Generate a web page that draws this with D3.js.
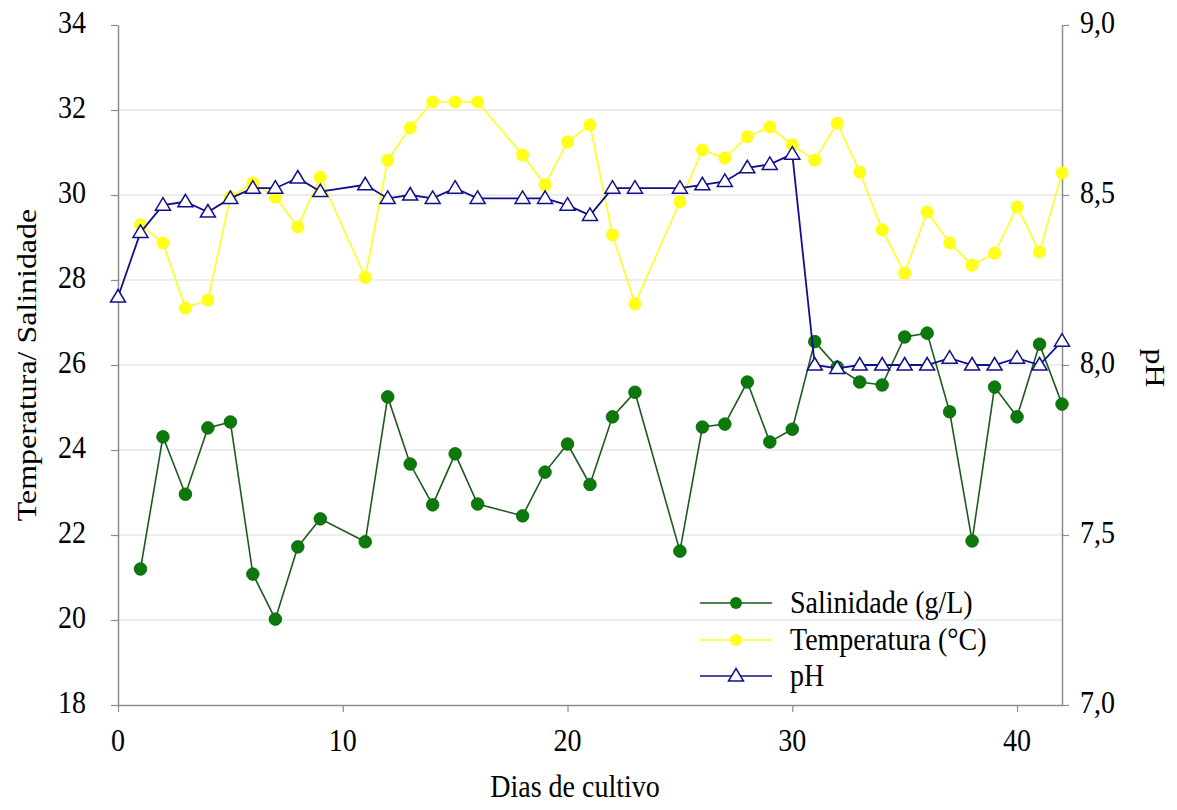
<!DOCTYPE html>
<html>
<head>
<meta charset="utf-8">
<script src="https://cdn.jsdelivr.net/npm/d3@7"></script>
<style>
  html, body { margin: 0; padding: 0; background: #ffffff; }
  svg { display: block; }
</style>
</head>
<body>
<svg id="chart" width="1177" height="810"></svg>
<script>
// ---- data ----
const salDays = [1,2,3,4,5,6,7,8,9,11,12,13,14,15,16,18,19,20,21,22,23,25,26,27,28,29,30,31,32,33,34,35,36,37,38,39,40,41,42];
const salinidade = [21.2,24.31,22.96,24.52,24.66,21.08,20.02,21.72,22.38,21.84,25.25,23.67,22.71,23.91,22.73,22.45,23.48,24.14,23.19,24.78,25.36,21.62,24.54,24.61,25.6,24.19,24.49,26.55,25.95,25.6,25.53,26.66,26.75,24.9,21.86,25.48,24.78,26.49,25.08];

const tempDays = [1,2,3,4,5,6,7,8,9,11,12,13,14,15,16,18,19,20,21,22,23,25,26,27,28,29,30,31,32,33,34,35,36,37,38,39,40,41,42];
const temperatura = [29.3,28.87,27.34,27.53,29.95,30.28,29.95,29.25,30.42,28.06,30.82,31.58,32.19,32.19,32.19,30.94,30.24,31.25,31.65,29.06,27.44,29.84,31.06,30.87,31.37,31.6,31.18,30.82,31.69,30.54,29.18,28.16,29.6,28.87,28.35,28.63,29.72,28.66,30.52];

const phDays = [0,1,2,3,4,5,6,7,8,9,11,12,13,14,15,16,18,19,20,21,22,23,25,26,27,28,29,30,31,32,33,34,35,36,37,38,39,40,41,42];
const ph = [8.2,8.39,8.47,8.48,8.45,8.49,8.52,8.52,8.55,8.51,8.53,8.49,8.50,8.49,8.52,8.49,8.49,8.49,8.47,8.44,8.52,8.52,8.52,8.53,8.54,8.58,8.59,8.62,8.0,7.99,8.0,8.0,8.0,8.0,8.02,8.0,8.0,8.02,8.0,8.07];

const xTicks = [0,10,20,30,40];
const leftTicks = [18,20,22,24,26,28,30,32,34];
const rightTicks = [7.0,7.5,8.0,8.5,9.0];
const legendLabels = ["Salinidade (g/L)", "Temperatura (°C)", "pH"];
const xTitle = "Dias de cultivo";
const yLeftTitle = "Temperatura/ Salinidade";
const yRightTitle = "pH";

// ---- layout ----
const L = 118, R = 1062, T = 25, B = 705;
const SY = 1.14; // vertical stretch of text, as in reference
const FS = 28;
const FONT = '"Liberation Serif", "Times New Roman", serif';

const svg = d3.select("#chart");
const x = d3.scaleLinear().domain([0, 42]).range([L, R]);
const yL = d3.scaleLinear().domain([18, 34]).range([B, T]);
const yR = d3.scaleLinear().domain([7, 9]).range([B, T]);

const axisColor = "#8c8c8c";

// gridlines
svg.append("g").selectAll("line")
  .data(leftTicks.filter(d => d > 18 && d < 34))
  .join("line")
  .attr("x1", L).attr("x2", R)
  .attr("y1", d => yL(d)).attr("y2", d => yL(d))
  .attr("stroke", "#dcdcdc").attr("stroke-width", 1.2);

function styleAxis(g) {
  g.selectAll("path.domain").attr("stroke", axisColor).attr("stroke-width", 1.5);
  g.selectAll(".tick line").attr("stroke", axisColor).attr("stroke-width", 1.2);
  g.selectAll(".tick text").remove();
}

// axes (lines & ticks)
const gx = svg.append("g").attr("transform", `translate(0,${B})`)
  .call(d3.axisBottom(x).tickValues(xTicks).tickSizeInner(7).tickSizeOuter(0));
styleAxis(gx);
const gl = svg.append("g").attr("transform", `translate(${L},0)`)
  .call(d3.axisLeft(yL).tickValues(leftTicks).tickSizeInner(7).tickSizeOuter(0));
styleAxis(gl);
const gr = svg.append("g").attr("transform", `translate(${R},0)`)
  .call(d3.axisRight(yR).tickValues(rightTicks).tickSizeInner(7).tickSizeOuter(0));
styleAxis(gr);

// text helper (stretched vertically like the reference)
function stretchedText(sel, tx, ty, str, anchor, rot) {
  return sel.append("text")
    .attr("transform", `translate(${tx},${ty}) scale(1,${SY})` + (rot ? ` rotate(${rot})` : ""))
    .attr("text-anchor", anchor)
    .style("font-family", FONT)
    .style("font-size", FS + "px")
    .style("fill", "#000")
    .text(str);
}
const labels = svg.append("g");
xTicks.forEach(d => stretchedText(labels, x(d), B + 46, String(d), "middle"));
leftTicks.forEach(d => stretchedText(labels, 86, yL(d) + 8, String(d), "end"));
const fmtR = d3.format(".1f");
rightTicks.forEach(d => stretchedText(labels, 1080, yR(d) + 8, fmtR(d).replace(".", ","), "start"));

// axis titles
stretchedText(labels, 575, 797, xTitle, "middle");
stretchedText(labels, 36, (T + B) / 2, yLeftTitle, "middle", -90);
stretchedText(labels, 1146, (T + B) / 2 + 3, yRightTitle, "middle", 90);

// ---- series ----
const salData = salDays.map((d, i) => [d, salinidade[i]]);
const tempData = tempDays.map((d, i) => [d, temperatura[i]]);
const phData = phDays.map((d, i) => [d, ph[i]]);

const salColor = "#0b7a0b", salLine = "#1d5a1d";
const tempColor = "#ffff1a";
const phColor = "#10108a";
const triPath = "M0,-7.5L7.5,5L-7.5,5Z";

const lineL = d3.line().x(d => x(d[0])).y(d => yL(d[1]));
const lineR = d3.line().x(d => x(d[0])).y(d => yR(d[1]));

// salinity
svg.append("path").datum(salData).attr("d", lineL)
  .attr("fill", "none").attr("stroke", salLine).attr("stroke-width", 1.6);
svg.append("g").selectAll("circle").data(salData).join("circle")
  .attr("cx", d => x(d[0])).attr("cy", d => yL(d[1])).attr("r", 6.3)
  .attr("fill", salColor).attr("stroke", "#0a600a").attr("stroke-width", 0.8);

// temperature
svg.append("path").datum(tempData).attr("d", lineL)
  .attr("fill", "none").attr("stroke", tempColor).attr("stroke-width", 1.6);
svg.append("g").selectAll("circle").data(tempData).join("circle")
  .attr("cx", d => x(d[0])).attr("cy", d => yL(d[1])).attr("r", 6.5)
  .attr("fill", tempColor);

// pH
svg.append("path").datum(phData).attr("d", lineR)
  .attr("fill", "none").attr("stroke", phColor).attr("stroke-width", 1.8);
svg.append("g").selectAll("path").data(phData).join("path")
  .attr("d", triPath)
  .attr("transform", d => `translate(${x(d[0])},${yR(d[1])})`)
  .attr("fill", "#fff").attr("stroke", phColor).attr("stroke-width", 1.5);

// ---- legend ----
const legRows = [603, 640, 676];
const lg = svg.append("g");
const legStyles = [
  {stroke: salLine, marker: "circle", fill: salColor, r: 6},
  {stroke: tempColor, marker: "circle", fill: tempColor, r: 6},
  {stroke: phColor, marker: "tri", fill: "#fff"}
];
legendLabels.forEach((lab, i) => {
  const yy = legRows[i], st = legStyles[i];
  lg.append("line").attr("x1", 700).attr("x2", 772).attr("y1", yy).attr("y2", yy)
    .attr("stroke", st.stroke).attr("stroke-width", 1.6);
  if (st.marker === "circle") {
    lg.append("circle").attr("cx", 736).attr("cy", yy).attr("r", st.r).attr("fill", st.fill);
  } else {
    lg.append("path").attr("d", triPath).attr("transform", `translate(736,${yy})`)
      .attr("fill", "#fff").attr("stroke", st.stroke).attr("stroke-width", 1.5);
  }
  stretchedText(lg, 790, yy + 10, lab, "start");
});
</script>
</body>
</html>
